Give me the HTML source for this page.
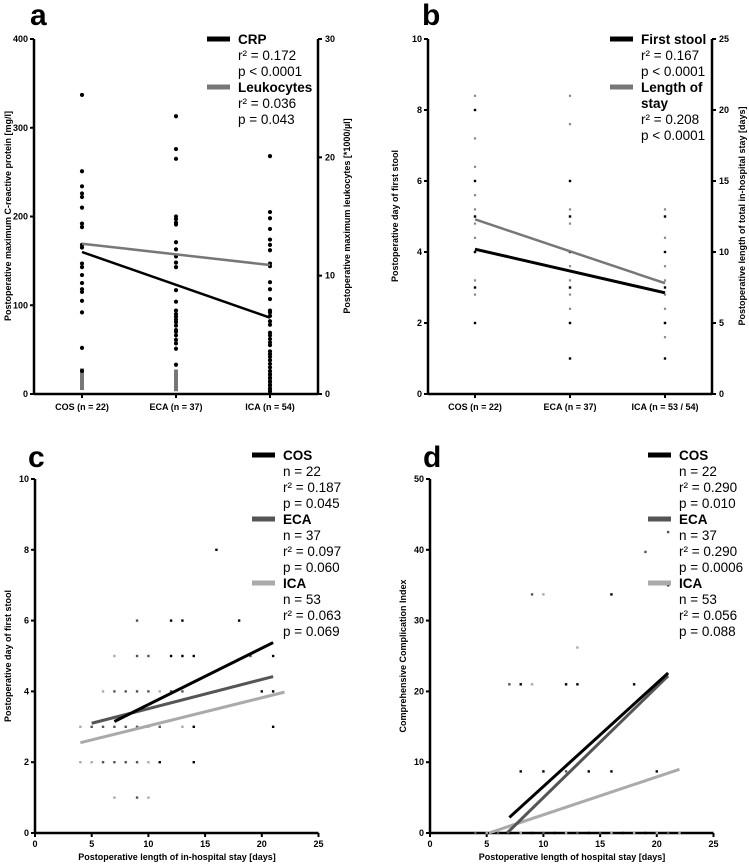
<!DOCTYPE html>
<html><head><meta charset="utf-8"><style>
body{margin:0;background:#fff;font-family:"Liberation Sans",Arial,sans-serif}
svg{display:block}
.tk{font-size:9px;font-weight:bold}
.at{font-size:9px;font-weight:bold}
.lg{font-size:13.5px}
.lb{font-size:13.5px;font-weight:bold}
.pl{font-size:30px;font-weight:bold}
</style></head><body>
<svg id="s" width="749" height="866" xmlns="http://www.w3.org/2000/svg"></svg>
<script>
// ---- Panel a data
const aCats=["COS (n = 22)","ECA (n = 37)","ICA (n = 54)"];
const aCrpCOS=[337,251,234,226,222,210,192,188,168,165,147,143,134,125,118,115,105,92,52,26];
const aCrpECA=[313,276,265,200,197,193,191,171,163,155,148,143,117,104,94,90,87,84,81,77,72,70,66,61,57,51,33];
const aCrpICA=[268,205,198,186,174,168,162,147,144,126,118,107,94,92,88,82,78,69,66,62,58,55,48,45,42,38,34,30,26,22,18,14,10,6,3];
const aLeuCOS=[0.5,0.8,1.1,1.4,1.7,2.0];
const aLeuECA=[0.4,0.7,1.0,1.3,1.6,1.9];
const aLeuICA=[0.3,0.6,0.9,1.2,1.5,1.8];
const aCrpFit=[160,86];
const aLeuFit=[12.7,10.9];
const aLeftTicks=[0,100,200,300,400];
const aRightTicks=[0,10,20,30];
// ---- Panel b data
const bCats=["COS (n = 22)","ECA (n = 37)","ICA (n = 53 / 54)"];
const bStoolCOS=[8,6,5,4,3,2];
const bStoolECA=[6,5,4,3,2,1];
const bStoolICA=[5,4,3,2,1];
const bLosCOS=[21,18,16,14,13,12,11,10,8,7];
const bLosECA=[21,19,13,12,9,8,7,6,5];
const bLosICA=[13,11,9,8,7,6,5,4];
const bStoolFit=[4.08,2.85];
const bLosFit=[12.3,7.8];
const bLeftTicks=[0,2,4,6,8,10];
const bRightTicks=[0,5,10,15,20,25];
// ---- Panel c data
const cCOSx=[16,12,13,18,12,13,14,21,20,21,14,21,11,14];
const cCOSy=[8,6,6,6,5,5,5,5,4,4,3,3,2,2];
const cECAx=[9,9,10,7,8,9,10,12,13,5,6,7,8,9,11,6,7,8,9,9,19,16];
const cECAy=[6,5,5,4,4,4,4,4,4,3,3,3,3,3,3,2,2,2,2,1,5,4];
const cICAx=[7,6,11,4,10,13,4,5,10,7,10];
const cICAy=[5,4,4,3,3,3,2,2,2,1,1];
const cFitCOS=[[7,3.15],[21,5.38]];
const cFitECA=[[5,3.1],[21,4.42]];
const cFitICA=[[4,2.55],[22,3.98]];
const cYTicks=[0,2,4,6,8,10];
const xTicks=[0,5,10,15,20,25];
// ---- Panel d data
const dCOSx=[8,12,13,18,16,8,10,14,16,20,21,7,9,11,14,17,19];
const dCOSy=[21,21,21,21,33.7,8.7,8.7,8.7,8.7,8.7,35,0,0,0,0,0,0];
const dECAx=[7,9,19,21,12,4,6,10,13,15,21];
const dECAy=[21,33.7,39.7,42.5,8.7,0,0,0,0,0,0];
const dICAx=[9,10,13,5,8,12,16,18,20,22];
const dICAy=[21,33.7,26.2,0,0,0,0,0,0,0];
const dFitCOS=[[7,2.2],[21,22.6]];
const dFitECA=[[6.8,0],[21,22.2]];
const dFitICA=[[5.2,0],[22,9]];
const dYTicks=[0,10,20,30,40,50];

const S=document.getElementById('s');
const NS="http://www.w3.org/2000/svg";
function el(t,a,name,txt){const e=document.createElementNS(NS,t);for(const k in a)e.setAttribute(k,a[k]);


if(txt!==undefined)e.textContent=txt;S.appendChild(e);return e;}
function lin(d0,d1,r0,r1){return v=>r0+(v-d0)/(d1-d0)*(r1-r0);}
function line(x1,y1,x2,y2,c,w,n){return el('line',{x1,y1,x2,y2,stroke:c,'stroke-width':w},n);}
function text(x,y,s,cls,n,anchor,extra){const a={x,y,class:cls,'text-anchor':anchor||'start'};Object.assign(a,extra||{});return el('text',a,n,s);}
function dot(x,y,r,c,n){return el('circle',{cx:x,cy:y,r,fill:c},n);}
function sq(x,y,w,h,c,n){return el('rect',{x:x-w/2,y:y-h/2,width:w,height:h,fill:c},n);}
function yAxis(x,y0,y1,ticks,sc,side,n){line(x,y0+1,x,y1,'#000',2.5,n+'-line');
ticks.forEach(t=>{const y=sc(t);const dx=side<0?-4:4;line(x,y,x+dx,y,'#000',2,n+'-tick');
text(x+(side<0?-6:7),y+3,String(t),'tk',n+'-tick-label',side<0?'end':'start');});}
function legend(x,ys,items,n){items.forEach((it,i)=>{if(it.c)line(x,ys[i]-4,x+23,ys[i]-4,it.c,5,n+'-swatch');
text(x+31,ys[i]+1,it.t,it.b?'lb':'lg',n+'-entry');});}

// ===== Panel a
text(30,25,'a','pl','panel-a-label');
{const yL=lin(0,400,394,39),yR=lin(0,30,394,39);const xs=[82,176,270];
line(34,394,318,394,'#000',2.5,'a-x-axis');
aCats.forEach((c,i)=>{line(xs[i],394,xs[i],398,'#000',2,'a-x-tick');text(xs[i],410,c,'tk','a-x-tick-label','middle');});
yAxis(34,394,39,aLeftTicks,yL,-1,'a-left-axis');yAxis(318,394,39,aRightTicks,yR,1,'a-right-axis');
[aLeuCOS,aLeuECA,aLeuICA].forEach((arr,i)=>arr.forEach(v=>sq(xs[i],yR(v),4,4,'#777','a-leukocyte-point')));
[aCrpCOS,aCrpECA,aCrpICA].forEach((arr,i)=>arr.forEach(v=>dot(xs[i],yL(v),2.1,'#000','a-crp-point')));
line(xs[0],yR(aLeuFit[0]),xs[2],yR(aLeuFit[1]),'#777',2.5,'a-leukocyte-fit');
line(xs[0],yL(aCrpFit[0]),xs[2],yL(aCrpFit[1]),'#000',2.5,'a-crp-fit');
text(11,216,'Postoperative maximum C-reactive protein [mg/l]','at','a-left-axis-title','middle',{transform:'rotate(-90 11 216)'});
text(350,216,'Postoperative maximum leukocytes [*1000/µl]','at','a-right-axis-title','middle',{transform:'rotate(-90 350 216)'});
legend(207,[43,59,75,91,107,123],[{t:'CRP',b:1,c:'#000'},{t:'r² = 0.172'},{t:'p < 0.0001'},{t:'Leukocytes',b:1,c:'#777'},{t:'r² = 0.036'},{t:'p = 0.043'}],'a-legend');}

// ===== Panel b
text(422,25,'b','pl','panel-b-label');
{const yL=lin(0,10,394,39),yR=lin(0,25,394,39);const xs=[475,570,665];
line(428,394,712,394,'#000',2.5,'b-x-axis');
bCats.forEach((c,i)=>{line(xs[i],394,xs[i],398,'#000',2,'b-x-tick');text(xs[i],410,c,'tk','b-x-tick-label','middle');});
yAxis(428,394,39,bLeftTicks,yL,-1,'b-left-axis');yAxis(712,394,39,bRightTicks,yR,1,'b-right-axis');
[bLosCOS,bLosECA,bLosICA].forEach((arr,i)=>arr.forEach(v=>sq(xs[i],yR(v),2.2,2.2,'#888','b-los-point')));
[bStoolCOS,bStoolECA,bStoolICA].forEach((arr,i)=>arr.forEach(v=>sq(xs[i],yL(v),2.4,2.4,'#000','b-stool-point')));
line(xs[0],yR(bLosFit[0]),xs[2],yR(bLosFit[1]),'#777',2.5,'b-los-fit');
line(xs[0],yL(bStoolFit[0]),xs[2],yL(bStoolFit[1]),'#000',3,'b-stool-fit');
text(398,216,'Postoperative day of first stool','at','b-left-axis-title','middle',{transform:'rotate(-90 398 216)'});
text(745,216,'Postoperative length of total in-hospital stay [days]','at','b-right-axis-title','middle',{transform:'rotate(-90 745 216)'});
legend(610,[43,59,75,91,107,123,139],[{t:'First stool',b:1,c:'#000'},{t:'r² = 0.167'},{t:'p < 0.0001'},{t:'Length of',b:1,c:'#777'},{t:'stay',b:1},{t:'r² = 0.208'},{t:'p < 0.0001'}],'b-legend');}

// ===== scatter panels
function scatter(p,x0,ytks,ymax,sets,fits,ytitle,xtitle,leg,legx){
const xs=lin(0,25,x0,x0+283.5),ys=lin(0,ymax,833,479);
line(x0,833,x0+283.5,833,'#000',2.5,p+'-x-axis');
xTicks.forEach(t=>{line(xs(t),833,xs(t),837,'#000',2,p+'-x-tick');text(xs(t),847,String(t),'tk',p+'-x-tick-label','middle');});
yAxis(x0,833,479,ytks,ys,-1,p+'-y-axis');
const cols=['#000','#555','#aaa'];
sets.forEach((s,k)=>s[0].forEach((v,i)=>sq(xs(v),ys(s[1][i]),2.4,2.4,cols[k],p+'-point')));
const fc=['#000','#555','#aaa'];
[2,1,0].forEach(k=>{const f=fits[k];line(xs(f[0][0]),ys(f[0][1]),xs(f[1][0]),ys(f[1][1]),fc[k],3,p+'-fit-'+['cos','eca','ica'][k]);});
text(x0-24,656,ytitle,'at',p+'-y-axis-title','middle',{transform:'rotate(-90 '+(x0-24)+' 656)'});
text(x0+142,860,xtitle,'at',p+'-x-axis-title','middle');
const yy=[];for(let i=0;i<12;i++)yy.push(459+16*i);
legend(legx,yy,leg,p+'-legend');}
text(28,467,'c','pl','panel-c-label');
scatter('c',35,cYTicks,10,[[cCOSx,cCOSy],[cECAx,cECAy],[cICAx,cICAy]],[cFitCOS,cFitECA,cFitICA],
'Postoperative day of first stool','Postoperative length of in-hospital stay [days]',
[{t:'COS',b:1,c:'#000'},{t:'n = 22'},{t:'r² = 0.187'},{t:'p = 0.045'},{t:'ECA',b:1,c:'#555'},{t:'n = 37'},{t:'r² = 0.097'},{t:'p = 0.060'},{t:'ICA',b:1,c:'#aaa'},{t:'n = 53'},{t:'r² = 0.063'},{t:'p = 0.069'}],252);
text(423,467,'d','pl','panel-d-label');
scatter('d',430,dYTicks,50,[[dCOSx,dCOSy],[dECAx,dECAy],[dICAx,dICAy]],[dFitCOS,dFitECA,dFitICA],
'Comprehensive Complication Index','Postoperative length of hospital stay [days]',
[{t:'COS',b:1,c:'#000'},{t:'n = 22'},{t:'r² = 0.290'},{t:'p = 0.010'},{t:'ECA',b:1,c:'#555'},{t:'n = 37'},{t:'r² = 0.290'},{t:'p = 0.0006'},{t:'ICA',b:1,c:'#aaa'},{t:'n = 53'},{t:'r² = 0.056'},{t:'p = 0.088'}],648);
</script>
</body></html>
